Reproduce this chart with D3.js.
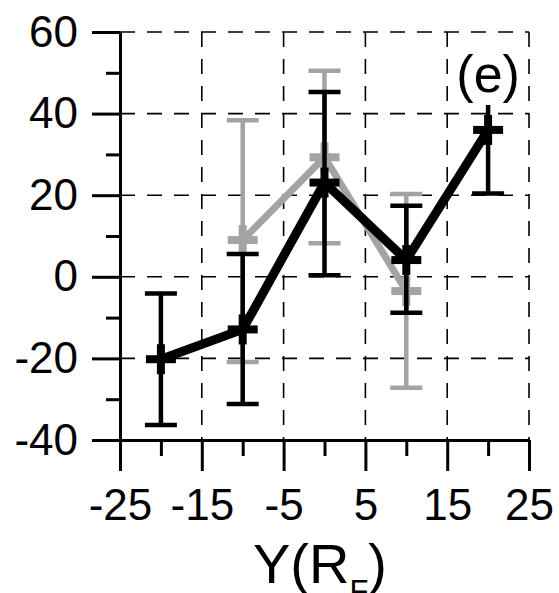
<!DOCTYPE html>
<html>
<head>
<meta charset="utf-8">
<script src="https://d3js.org/d3.v7.min.js"></script>
<style>
  body { margin: 0; background: #fff; }
  svg { display: block; font-family: "Liberation Sans", Arial, sans-serif; }
</style>
</head>
<body>
<div id="chart"></div>
<script>
// data
var blackX = [-20, -10, 0, 10, 20];
var blackY = [-20.2, -12.9, 23.1, 4.1, 36];
var blackTop = [-4.1, 5.6, 45.3, 17.4, 43.5];
var blackBottom = [-36.3, -31.2, 0.4, -8.8, 20.4];

var grayX = [-10, 0, 10];
var grayY = [9.0, 29.3, -3.5];
var grayTop = [38.4, 50.5, 20.3];
var grayBottom = [-20.9, 8.2, -27.2];

var xMajor = [-25, -15, -5, 5, 15, 25];
var xMinor = [-20, -10, 0, 10, 20];
var yMajor = [-40, -20, 0, 20, 40, 60];
var yMinor = [-30, -10, 10, 30, 50];
var xGrid = [-15, -5, 5, 15, 25];
var yGrid = [-20, 0, 20, 40, 60];

var width = 559, height = 593;

var svg = d3.select("#chart").append("svg")
    .attr("width", width)
    .attr("height", height);

//scales
var x = d3.scaleLinear().domain([-25, 25]).range([120, 529]);
var y = d3.scaleLinear().domain([-40, 60]).range([440, 32]);

//grid
var grid = svg.append("g").attr("class", "grid")
    .attr("stroke", "#000")
    .attr("stroke-width", 1.6)
    .attr("stroke-dasharray", "15,12");

grid.selectAll(".hgrid").data(yGrid).enter().append("line")
    .attr("x1", x(-25)).attr("x2", x(25))
    .attr("y1", d => y(d)).attr("y2", d => y(d));

grid.selectAll(".vgrid").data(xGrid).enter().append("line")
    .attr("x1", d => x(d)).attr("x2", d => x(d))
    .attr("y1", y(60)).attr("y2", y(-40));

//axes
function styleAxis(g) {
    g.selectAll("path, line").attr("stroke", "#000").attr("stroke-width", 3);
    g.selectAll("text").attr("fill", "#000").style("font-size", "44px");
}

svg.append("g")
    .attr("transform", "translate(" + x(-25) + ",0)")
    .call(d3.axisLeft(y).tickValues(yMinor).tickSize(14).tickSizeOuter(0).tickFormat(""))
    .call(styleAxis);

svg.append("g")
    .attr("transform", "translate(" + x(-25) + ",0)")
    .call(d3.axisLeft(y).tickValues(yMajor).tickSize(28).tickSizeOuter(0).tickPadding(14).tickFormat(d3.format("d")))
    .call(styleAxis);

svg.append("g")
    .attr("transform", "translate(0," + y(-40) + ")")
    .call(d3.axisBottom(x).tickValues(xMinor).tickSize(16).tickSizeOuter(0).tickFormat(""))
    .call(styleAxis);

svg.append("g")
    .attr("transform", "translate(0," + y(-40) + ")")
    .call(d3.axisBottom(x).tickValues(xMajor).tickSize(31).tickSizeOuter(0).tickPadding(18).tickFormat(d3.format("d")))
    .call(styleAxis);

// d3 uses a real minus sign, the picture uses a hyphen
svg.selectAll(".tick text").text(function () { return this.textContent.replace("\u2212", "-"); });

//series
function drawSeries(xs, ys, tops, bottoms, colour, lineWidth) {
    var pts = xs.map((d, i) => ({ x: d, y: ys[i], top: tops[i], bottom: bottoms[i] }));
    var g = svg.append("g");

    // error bars
    g.selectAll(".err").data(pts).enter().append("line")
        .attr("x1", d => x(d.x)).attr("x2", d => x(d.x))
        .attr("y1", d => y(d.top)).attr("y2", d => y(d.bottom))
        .attr("stroke", colour).attr("stroke-width", 4.5);

    g.selectAll(".capTop").data(pts).enter().append("line")
        .attr("x1", d => x(d.x) - 16).attr("x2", d => x(d.x) + 16)
        .attr("y1", d => y(d.top)).attr("y2", d => y(d.top))
        .attr("stroke", colour).attr("stroke-width", 4.5);

    g.selectAll(".capBottom").data(pts).enter().append("line")
        .attr("x1", d => x(d.x) - 16).attr("x2", d => x(d.x) + 16)
        .attr("y1", d => y(d.bottom)).attr("y2", d => y(d.bottom))
        .attr("stroke", colour).attr("stroke-width", 4.5);

    // line
    var line = d3.line().x(d => x(d.x)).y(d => y(d.y));
    g.append("path")
        .datum(pts)
        .attr("fill", "none")
        .attr("stroke", colour)
        .attr("stroke-width", lineWidth)
        .attr("stroke-linejoin", "miter")
        .attr("d", line);

    // plus markers
    g.selectAll(".mh").data(pts).enter().append("line")
        .attr("x1", d => x(d.x) - 15).attr("x2", d => x(d.x) + 15)
        .attr("y1", d => y(d.y)).attr("y2", d => y(d.y))
        .attr("stroke", colour).attr("stroke-width", 8);

    g.selectAll(".mv").data(pts).enter().append("line")
        .attr("x1", d => x(d.x)).attr("x2", d => x(d.x))
        .attr("y1", d => y(d.y) - 15).attr("y2", d => y(d.y) + 15)
        .attr("stroke", colour).attr("stroke-width", 8);
}

drawSeries(grayX, grayY, grayTop, grayBottom, "#a3a3a3", 7);
drawSeries(blackX, blackY, blackTop, blackBottom, "#000", 9);

//panel label with white background
var lab = svg.append("g");
var labRect = lab.append("rect").attr("fill", "#fff");
var labText = lab.append("text")
    .attr("x", x(20))
    .attr("y", 92)
    .attr("text-anchor", "middle")
    .style("font-size", "52px")
    .attr("fill", "#000")
    .text("(e)");
var bb = labText.node().getBBox();
labRect.attr("x", bb.x + 6).attr("y", y(43.5) - 3)
    .attr("width", bb.width - 12).attr("height", bb.y + bb.height + 2 - (y(43.5) - 3));

//x axis title
var title = svg.append("text")
    .attr("x", 320)
    .attr("y", 583)
    .attr("text-anchor", "middle")
    .style("font-size", "56px")
    .attr("fill", "#000");
title.append("tspan").text("Y(R");
title.append("tspan").attr("dy", 19).style("font-size", "31px").text("F");
title.append("tspan").attr("dy", -19).text(")");
</script>
</body>
</html>
